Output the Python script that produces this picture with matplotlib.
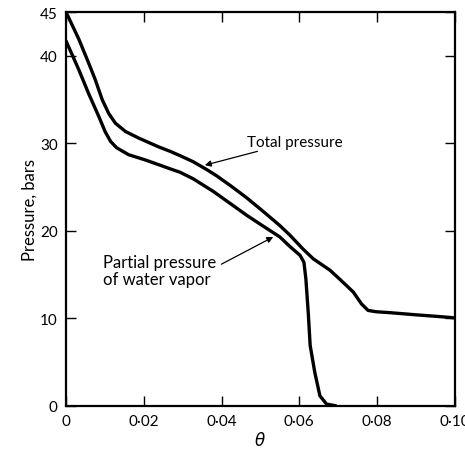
import matplotlib
matplotlib.use("Agg")
import matplotlib.pyplot as plt

plt.rcParams['font.family'] = ['Lato', 'DejaVu Sans']

# Total pressure curve
total_x = [0.0, 0.0033, 0.0058, 0.0075, 0.0093, 0.0110, 0.0127, 0.0153, 0.0187,
           0.0238, 0.0267, 0.0293, 0.0327, 0.0362, 0.0387, 0.0425, 0.0464,
           0.0505, 0.0550, 0.0576, 0.0610, 0.0636, 0.0679, 0.0713, 0.0739,
           0.0760, 0.0777, 0.0798, 0.0832, 0.0900, 0.0960, 0.1000]
total_y = [45.0, 41.9, 39.2, 37.3, 35.0, 33.4, 32.3, 31.35, 30.6,
           29.6, 29.1, 28.6, 27.9, 27.0, 26.3, 25.1, 23.8,
           22.3, 20.6, 19.5, 17.9, 16.8, 15.5, 14.1, 13.0,
           11.65, 10.9, 10.75, 10.65, 10.4, 10.2, 10.05]

# Partial pressure of water vapor curve
partial_x = [0.0, 0.0033, 0.0058, 0.0084, 0.0101, 0.0115, 0.0130, 0.0161, 0.0204,
             0.0242, 0.0267, 0.0293, 0.0327, 0.0379, 0.0420, 0.0464, 0.0505,
             0.0550, 0.0576, 0.0602, 0.0612, 0.0617, 0.0623, 0.0628, 0.0640,
             0.0653, 0.0670, 0.0694]
partial_y = [41.7, 38.4, 35.7, 33.1, 31.3, 30.2, 29.5, 28.7, 28.1,
             27.5, 27.1, 26.7, 25.95, 24.5, 23.2, 21.8, 20.6,
             19.3, 18.2, 17.2, 16.4, 14.5, 10.7, 6.9, 3.8,
             1.15, 0.2, 0.0]

xticks = [0, 0.02, 0.04, 0.06, 0.08, 0.10]
xticklabels = ["0", "0·02", "0·04", "0·06", "0·08", "0·10"]
yticks = [0, 10, 20, 30, 40, 45]
yticklabels = ["0", "10", "20", "30", "40", "45"]

fig = plt.figure(figsize=(4.65, 4.52), dpi=100)
ax = fig.add_axes([0.142, 0.100, 0.836, 0.871])

ax.plot(total_x, total_y, color='black', lw=2.4, solid_capstyle='round',
        solid_joinstyle='round')
ax.plot(partial_x, partial_y, color='black', lw=2.4, solid_capstyle='round',
        solid_joinstyle='round')

ax.set_xlim(0, 0.10)
ax.set_ylim(0, 45)
ax.set_xticks(xticks)
ax.set_xticklabels(xticklabels)
ax.set_yticks(yticks)
ax.set_yticklabels(yticklabels)
ax.tick_params(direction='in', top=True, right=True, length=7, width=1.0,
               labelsize=11, pad=6)

for s in ax.spines.values():
    s.set_linewidth(1.6)

ax.set_ylabel("Pressure, bars", fontsize=12, labelpad=2)
ax.set_xlabel(r"$\theta$", fontsize=12, labelpad=1)

ax.annotate("Total pressure", xy=(0.0357, 27.5), xytext=(0.0465, 30.2),
            fontsize=11, va='center', ha='left',
            arrowprops=dict(arrowstyle='-|>', color='black', lw=0.9,
                            mutation_scale=9, shrinkA=0, shrinkB=0))
ax.annotate("Partial pressure\nof water vapor", xy=(0.0533, 19.3),
            xytext=(0.0095, 15.5), fontsize=12, va='center', ha='left',
            linespacing=1.05,
            arrowprops=dict(arrowstyle='-|>', color='black', lw=0.9,
                            mutation_scale=9, shrinkA=2, shrinkB=0,
                            relpos=(1.0, 0.6)))

fig.savefig("out.png", dpi=100)
